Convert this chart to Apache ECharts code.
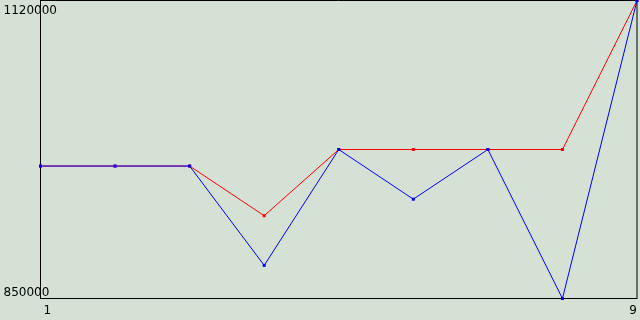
<!DOCTYPE html>
<html>
<head>
<meta charset="utf-8">
<script src="https://cdn.jsdelivr.net/npm/echarts@6/dist/echarts.min.js"></script>
<style>
	html, body { margin: 0; padding: 0; background: #d4e1d4; }
	#chart { width: 640px; height: 320px; }
</style>
</head>
<body>
<div id="chart"></div>
<script>
const categories = ['1', '2', '3', '4', '5', '6', '7', '8', '9']
const redValues = [970000, 970000, 970000, 925000, 985000, 985000, 985000, 985000, 1120000]
const blueValues = [970000, 970000, 970000, 880000, 985000, 940000, 985000, 850000, 1120000]
const yMin = 850000
const yMax = 1120000

const myChart = echarts.init(document.getElementById('chart'))
const lastIndex = categories.length - 1
const labelFont = { color: '#000', fontFamily: 'DejaVu Sans', fontSize: 12 }

let option = {
	animation: false,
	backgroundColor: '#d4e1d4',
	grid: {
		left: 40.5,
		right: 0.5,
		top: 0.5,
		bottom: 21.5,
		show: true,
		borderColor: '#000',
		borderWidth: 1,
		backgroundColor: 'transparent',
	},
	xAxis: {
		type: 'category',
		data: categories,
		boundaryGap: false,
		axisLine: { lineStyle: { color: '#000', width: 1 } },
		axisTick: { show: false },
		splitLine: { show: false },
		axisLabel: {
			...labelFont,
			interval: (i) => i === 0 || i === lastIndex,
			margin: 6,
			alignMinLabel: 'left',
			alignMaxLabel: 'right',
			formatter: (v) => (v === categories[0] ? '{first|' + v + '}' : v),
			rich: {
				first: { ...labelFont, padding: [0, 0, 0, 3] },
			},
		},
	},
	yAxis: {
		type: 'value',
		min: yMin,
		max: yMax,
		interval: yMax - yMin,
		axisLine: { show: true, lineStyle: { color: '#000', width: 1 } },
		axisTick: { show: false },
		splitLine: { show: false },
		axisLabel: {
			...labelFont,
			align: 'left',
			margin: 37,
			verticalAlignMinLabel: 'bottom',
			verticalAlignMaxLabel: 'top',
			formatter: (v) => (v === yMax ? '{top|' + v + '}' : '{bottom|' + v + '}'),
			rich: {
				top: { ...labelFont, padding: [4, 0, 0, 0] },
				bottom: { ...labelFont, padding: [0, 0, 0, 0] },
			},
		},
	},
	series: [
		{
			type: 'line',
			data: redValues,
			symbol: 'rect',
			symbolSize: 3,
			showAllSymbol: true,
			itemStyle: { color: '#ff0000' },
			lineStyle: { color: '#ff0000', width: 1 },
		},
		{
			type: 'line',
			data: blueValues,
			symbol: 'rect',
			symbolSize: 3,
			showAllSymbol: true,
			itemStyle: { color: '#0000ff' },
			lineStyle: { color: '#0000ff', width: 1 },
		},
	],
}
myChart.setOption(option)
</script>
</body>
</html>
